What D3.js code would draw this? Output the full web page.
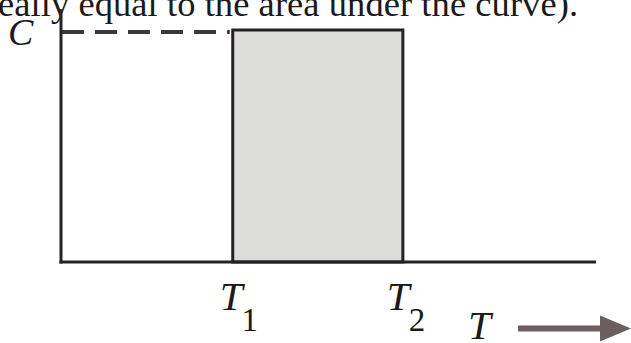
<!DOCTYPE html>
<html>
<head>
<meta charset="utf-8">
<script src="https://cdn.jsdelivr.net/npm/d3@7"></script>
<style>
  html, body { margin: 0; padding: 0; background: #ffffff; }
  svg { display: block; }
  text { font-family: "Liberation Serif", "DejaVu Serif", serif; fill: #1a1a1a; }
</style>
</head>
<body>
<svg id="chart" width="631" height="343"></svg>
<script>
// Rectangular pulse: concentration C held between times T1 and T2
const pulseStart = [3.21];          // T1
const pulseEnd = [6.39];            // T2
const pulseLevel = [1.0];           // C
const timeDomain = [0, 10];
const levelDomain = [0, 1.0];
const tickLabels = ["T", "1", "T", "2"];
const captionText = ["eally equal to the area under the curve)."];

const svg = d3.select("#chart");

const x = d3.scaleLinear().domain(timeDomain).range([61, 596]);
const y = d3.scaleLinear().domain(levelDomain).range([262, 30]);

const ink = "#262224";

// caption line running off the top edge
svg.append("text")
  .attr("x", -2).attr("y", 16)
  .attr("textLength", 580)
  .attr("lengthAdjust", "spacing")
  .style("font-size", "36.5px")
  .text(captionText[0]);

// shaded pulse
svg.append("rect")
  .attr("x", x(pulseStart[0]))
  .attr("y", y(pulseLevel[0]))
  .attr("width", x(pulseEnd[0]) - x(pulseStart[0]))
  .attr("height", y(0) - y(pulseLevel[0]))
  .attr("fill", "#dcdcda")
  .attr("stroke", ink)
  .attr("stroke-width", 3);

// dashed guide from the level axis to the pulse top
svg.append("line")
  .attr("x1", x(0) + 1).attr("x2", x(pulseStart[0]) - 3)
  .attr("y1", y(pulseLevel[0]) + 2).attr("y2", y(pulseLevel[0]) + 2)
  .attr("stroke", "#3e3638")
  .attr("stroke-width", 4)
  .attr("stroke-dasharray", "22,11");

// axes
svg.append("line")
  .attr("x1", x(0)).attr("x2", x(0))
  .attr("y1", y(1.09)).attr("y2", y(0) + 1.5)
  .attr("stroke", ink).attr("stroke-width", 3);
svg.append("line")
  .attr("x1", x(0) - 1.5).attr("x2", x(timeDomain[1]))
  .attr("y1", y(0)).attr("y2", y(0))
  .attr("stroke", ink).attr("stroke-width", 3);

// level label
svg.append("text")
  .attr("x", 8).attr("y", 45)
  .style("font-size", "38px").style("font-style", "italic")
  .text("C");

// time labels with subscripts
function subLabel(cx, base, sub) {
  const g = svg.append("text").attr("x", cx).attr("y", 310);
  g.append("tspan").style("font-size", "41px").style("font-style", "italic").text(base);
  g.append("tspan").attr("dx", -1).attr("dy", 21).style("font-size", "33px").text(sub);
}
subLabel(x(pulseStart[0]) - 13, tickLabels[0], tickLabels[1]);
subLabel(x(pulseEnd[0]) - 16, tickLabels[2], tickLabels[3]);

// time axis title with arrow
svg.append("text")
  .attr("x", 468).attr("y", 339)
  .style("font-size", "41px").style("font-style", "italic")
  .text("T");

const arrowY = 328.5;
svg.append("line")
  .attr("x1", 518).attr("x2", 606)
  .attr("y1", arrowY).attr("y2", arrowY)
  .attr("stroke", "#6b5e60").attr("stroke-width", 6);
svg.append("path")
  .attr("d", d3.line()([[600, arrowY - 13], [631, arrowY], [600, arrowY + 13]]) + "Z")
  .attr("fill", "#6b5e60");
</script>
</body>
</html>
